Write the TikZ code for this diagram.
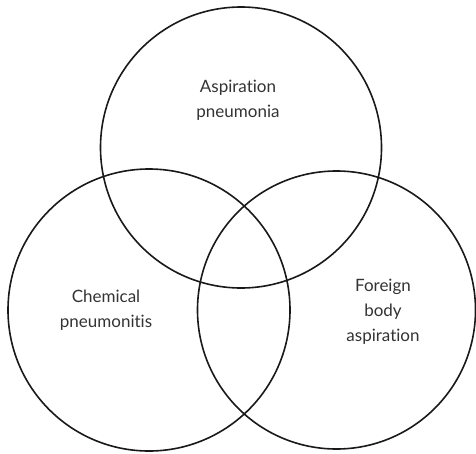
\documentclass[tikz,border=0pt]{standalone}
\usepackage{fontspec}
\setmainfont[Ligatures={NoCommon,NoRare}]{Lato}
\begin{document}
\begin{tikzpicture}[x=1pt,y=-1pt,
  ring/.style={draw=black!90,line width=1.6pt},
  lbl/.style={align=center,text=black!80,font=\fontsize{17}{25}\selectfont,inner sep=0pt}]
\useasboundingbox (0,0) rectangle (476,453);
\draw[ring] (241,147.5) circle (140.5);
\draw[ring] (149,310) circle (141);
\draw[ring] (336.5,310) circle (139);
\node[lbl] (a) at (238,100) {Aspiration\\pneumonia};
\node[lbl] (c) at (106,310) {Chemical\\pneumonitis};
\node[lbl] (f) at (383,312) {Foreign\\body\\aspiration};
\end{tikzpicture}
\end{document}
